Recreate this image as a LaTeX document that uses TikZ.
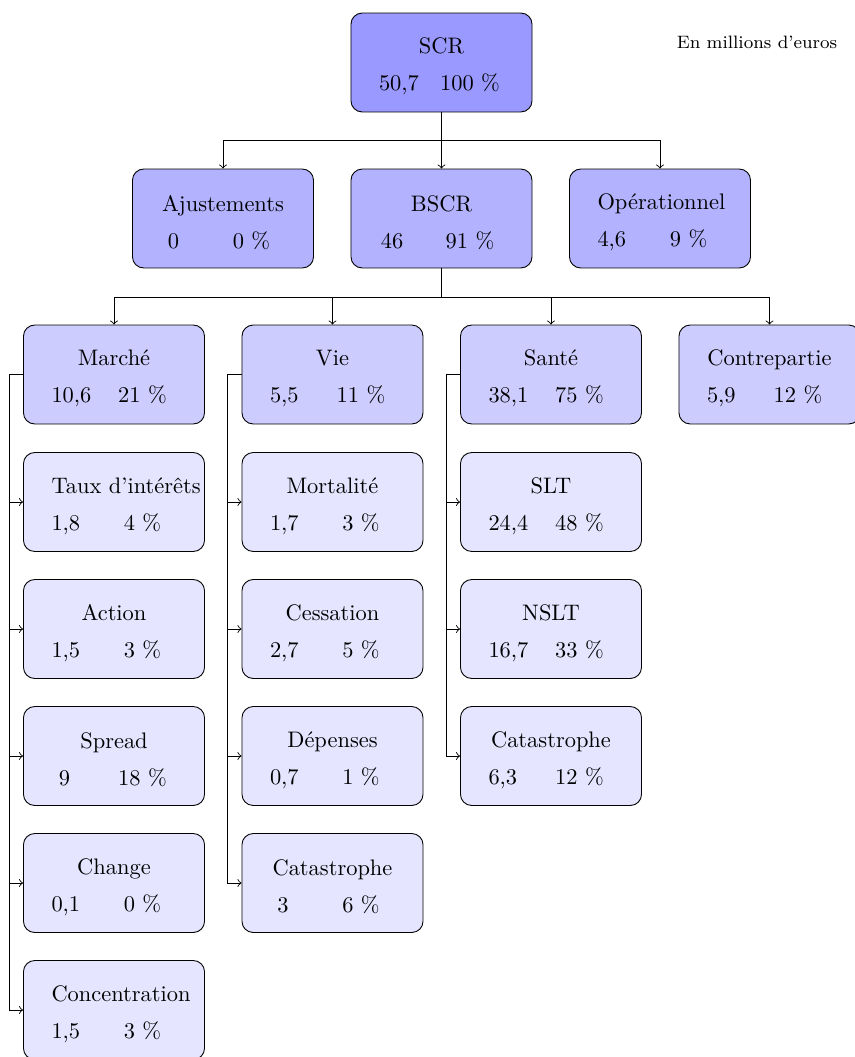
\documentclass[tikz,border=0pt]{standalone}

\tikzset{
  caja/.style={draw, rounded corners=5pt, minimum width=80.7pt, minimum height=44.1pt, align=center, inner sep=0pt},
  nivel0/.style={caja, fill=blue!40},
  nivel1/.style={caja, fill=blue!30},
  nivel2/.style={caja, fill=blue!20},
  nivel3/.style={caja, fill=blue!10}
}
\newcommand{\celda}[2]{\hbox to #1{\hfil #2\hfil\hskip 0pt minus 1fil}}
\newcommand{\valores}[3]{\rule{0pt}{10.6pt}\celda{55.7pt}{#1}\\[4.5pt]\celda{11.6pt}{#2}\hspace{13.8pt}\celda{30.3pt}{#3}}

\begin{document}
\begin{tikzpicture}[x=0.4457pt, y=-0.4457pt]
    \useasboundingbox (0,0) rectangle (855,1057);

    % Nota
    \node at (757,42) {\footnotesize En millions d'euros};

    % SCR y BSCR
    \node[nivel0] (scr) at (441.5,62.5) {\valores{SCR}{50,7}{100~\%}};
    \node[nivel1] (ajust) at (223,218.5) {\valores{Ajustements}{0}{0~\%}};
    \node[nivel1] (bscr) at (441.5,218.5) {\valores{BSCR}{46}{91~\%}};
    \node[nivel1] (oper) at (660,218.5) {\valores{Opérationnel}{4,6}{9~\%}};

    % Modulos
    \node[nivel2] (marche) at (114,374.5) {\valores{Marché}{10,6}{21~\%}};
    \node[nivel2] (vie) at (332.5,374.5) {\valores{Vie}{5,5}{11~\%}};
    \node[nivel2] (sante) at (551,374.5) {\valores{Santé}{38,1}{75~\%}};
    \node[nivel2] (contre) at (769.5,374.5) {\valores{Contrepartie}{5,9}{12~\%}};

    % Sub-modulos de mercado
    \node[nivel3] (taux) at (114,502) {\valores{Taux d'intérêts}{1,8}{4~\%}};
    \node[nivel3] (action) at (114,629) {\valores{Action}{1,5}{3~\%}};
    \node[nivel3] (spread) at (114,756) {\valores{Spread}{9}{18~\%}};
    \node[nivel3] (change) at (114,883) {\valores{Change}{0,1}{0~\%}};
    \node[nivel3] (concen) at (114,1010) {\valores{Concentration}{1,5}{3~\%}};

    % Sub-modulos de vida
    \node[nivel3] (morta) at (332.5,502) {\valores{Mortalité}{1,7}{3~\%}};
    \node[nivel3] (cessa) at (332.5,629) {\valores{Cessation}{2,7}{5~\%}};
    \node[nivel3] (depen) at (332.5,756) {\valores{Dépenses}{0,7}{1~\%}};
    \node[nivel3] (catvie) at (332.5,883) {\valores{Catastrophe}{3}{6~\%}};

    % Sub-modulos de salud
    \node[nivel3] (slt) at (551,502) {\valores{SLT}{24,4}{48~\%}};
    \node[nivel3] (nslt) at (551,629) {\valores{NSLT}{16,7}{33~\%}};
    \node[nivel3] (catsan) at (551,756) {\valores{Catastrophe}{6,3}{12~\%}};

    % Conexiones
    \coordinate (bus1) at (441.5,140);
    \coordinate (bus2) at (441.5,297);
    \draw (scr) -- (bus1);
    \draw[->] (bus1) -| (ajust.north);
    \draw[->] (bus1) -- (bscr);
    \draw[->] (bus1) -| (oper.north);
    \draw (bscr) -- (bus2);
    \draw[->] (bus2) -| (marche.north);
    \draw[->] (bus2) -| (vie.north);
    \draw[->] (bus2) -| (sante.north);
    \draw[->] (bus2) -| (contre.north);

    \foreach \hijo in {taux, action, spread, change, concen}
        \draw[->] (marche.west) -- ++(-14,0) |- (\hijo.west);
    \foreach \hijo in {morta, cessa, depen, catvie}
        \draw[->] (vie.west) -- ++(-14,0) |- (\hijo.west);
    \foreach \hijo in {slt, nslt, catsan}
        \draw[->] (sante.west) -- ++(-14,0) |- (\hijo.west);
\end{tikzpicture}
\end{document}
